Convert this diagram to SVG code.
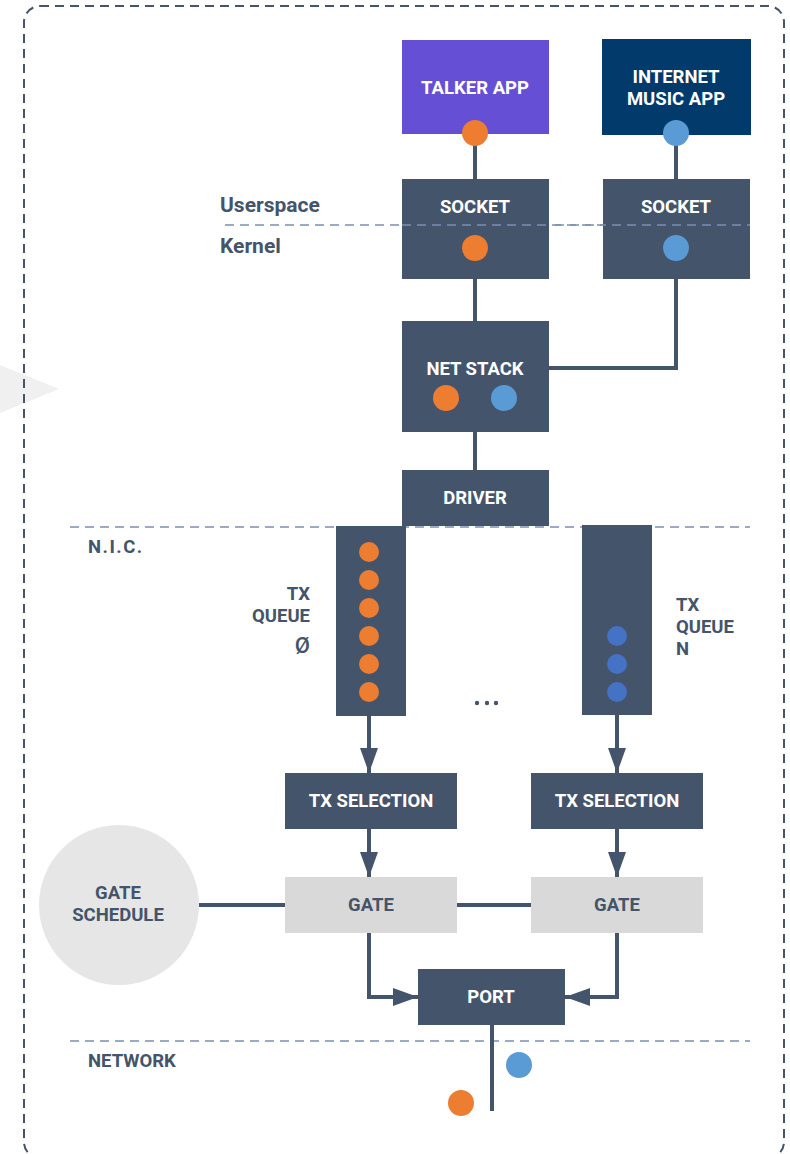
<svg xmlns="http://www.w3.org/2000/svg" width="790" height="1154" viewBox="0 0 790 1154">
<defs>
<style>
.box{fill:#44546a}
.gate{fill:#d9d9d9}
.lbl{font-family:Roboto,"Liberation Sans",sans-serif;font-weight:700;font-size:18.5px;fill:#ffffff;text-anchor:middle}
.dlbl{font-family:Roboto,"Liberation Sans",sans-serif;font-weight:700;font-size:18.5px;fill:#44546a}
.big{font-size:21px}
.sep{stroke:#7b8fb3;stroke-width:1.6;stroke-dasharray:9 6;fill:none}
.conn{stroke:#44546a;stroke-width:4;fill:none}
.or{fill:#ed7d31}
.bl{fill:#5b9bd5}
.db{fill:#4472c4}
</style>
<marker id="arrL" viewBox="0 0 25 18" refX="25" refY="9" markerWidth="25" markerHeight="18" markerUnits="userSpaceOnUse" orient="auto">
<path d="M0,0 L25,9 L0,18 Z" fill="#44546a"/>
</marker>
</defs>
<rect width="790" height="1154" fill="#ffffff"/>
<polygon points="0,365 59,389 0,413" fill="#f0f0f0"/>
<rect x="24" y="6" width="760" height="1152" rx="16" fill="none" stroke="#44546a" stroke-width="2" stroke-dasharray="9 6"/>

<g id="separators">
<line class="sep" x1="225" y1="225" x2="750" y2="225"/>
<line class="sep" x1="70" y1="527" x2="750" y2="527"/>
<line class="sep" x1="70" y1="1041" x2="750" y2="1041"/>
<text class="dlbl big" x="220" y="212">Userspace</text>
<text class="dlbl big" x="220" y="253">Kernel</text>
<text class="dlbl" x="88" y="553" letter-spacing="1.5">N.I.C.</text>
<text class="dlbl" x="88" y="1067">NETWORK</text>
</g>

<g id="connectors">
<line class="conn" x1="475" y1="133" x2="475" y2="179"/>
<line class="conn" x1="676" y1="133" x2="676" y2="179"/>
<line class="conn" x1="475" y1="278" x2="475" y2="321"/>
<polyline class="conn" points="676,278 676,368 549,368"/>
<line class="conn" x1="475" y1="432" x2="475" y2="470"/>
<line class="conn" x1="369" y1="716" x2="369" y2="773" marker-end="url(#arrL)"/>
<line class="conn" x1="617" y1="715" x2="617" y2="773" marker-end="url(#arrL)"/>
<line class="conn" x1="369" y1="829" x2="369" y2="877" marker-end="url(#arrL)"/>
<line class="conn" x1="617" y1="829" x2="617" y2="877" marker-end="url(#arrL)"/>
<line class="conn" x1="199" y1="905" x2="285" y2="905"/>
<line class="conn" x1="457" y1="905" x2="531" y2="905"/>
<polyline class="conn" points="369,933 369,997 418,997" marker-end="url(#arrL)"/>
<polyline class="conn" points="617,933 617,997 565,997" marker-end="url(#arrL)"/>
<line class="conn" x1="492" y1="1025" x2="492" y2="1111"/>
</g>

<g id="talker-app">
<rect x="402" y="40" width="147" height="94" fill="#654fd5"/>
<text class="lbl" x="475" y="94">TALKER APP</text>
<circle class="or" cx="475" cy="133" r="13"/>
</g>
<g id="music-app">
<rect x="602" y="39" width="149" height="96" fill="#013a6b"/>
<text class="lbl" x="676" y="83">INTERNET</text>
<text class="lbl" x="676" y="105">MUSIC APP</text>
<circle class="bl" cx="676" cy="133" r="13"/>
</g>
<g id="socket1">
<rect class="box" x="402" y="179" width="147" height="100"/>
<text class="lbl" x="475" y="213">SOCKET</text>
<circle class="or" cx="475" cy="248" r="13"/>
</g>
<g id="socket2">
<rect class="box" x="603" y="179" width="147" height="100"/>
<text class="lbl" x="676" y="213">SOCKET</text>
<circle class="bl" cx="676" cy="248" r="13"/>
</g>
<line class="sep" x1="402" y1="225" x2="750" y2="225"/>
<g id="net-stack">
<rect class="box" x="402" y="321" width="147" height="111"/>
<text class="lbl" x="475" y="375">NET STACK</text>
<circle class="or" cx="446" cy="398" r="13"/>
<circle class="bl" cx="504" cy="398" r="13"/>
</g>
<g id="driver">
<rect class="box" x="402" y="470" width="147" height="56"/>
<text class="lbl" x="475" y="504">DRIVER</text>
</g>
<g id="tx-queue-0">
<rect class="box" x="336" y="526" width="70" height="190"/>
<circle class="or" cx="369" cy="552" r="10"/>
<circle class="or" cx="369" cy="580" r="10"/>
<circle class="or" cx="369" cy="608" r="10"/>
<circle class="or" cx="369" cy="636" r="10"/>
<circle class="or" cx="369" cy="664" r="10"/>
<circle class="or" cx="369" cy="692" r="10"/>
<text class="dlbl" x="310" y="600" text-anchor="end">TX</text>
<text class="dlbl" x="310" y="622" text-anchor="end">QUEUE</text>
<text class="dlbl" x="310" y="653" text-anchor="end" style="font-weight:500;font-size:22px">Ø</text>
</g>
<g id="tx-queue-n">
<rect class="box" x="582" y="525" width="70" height="190"/>
<circle class="db" cx="617" cy="636" r="10"/>
<circle class="db" cx="617" cy="664" r="10"/>
<circle class="db" cx="617" cy="692" r="10"/>
<text class="dlbl" x="676" y="611">TX</text>
<text class="dlbl" x="676" y="633">QUEUE</text>
<text class="dlbl" x="676" y="655">N</text>
</g>
<g id="ellipsis" fill="#44546a">
<circle cx="477" cy="703" r="2.2"/>
<circle cx="487" cy="703" r="2.2"/>
<circle cx="496" cy="703" r="2.2"/>
</g>
<g id="tx-selection-1">
<rect class="box" x="285" y="773" width="172" height="56"/>
<text class="lbl" x="371" y="807">TX SELECTION</text>
</g>
<g id="tx-selection-2">
<rect class="box" x="531" y="773" width="172" height="56"/>
<text class="lbl" x="617" y="807">TX SELECTION</text>
</g>
<g id="gate-schedule">
<circle cx="119" cy="905" r="80" fill="#e6e6e6"/>
<text class="dlbl" x="118" y="899" text-anchor="middle">GATE</text>
<text class="dlbl" x="118" y="921" text-anchor="middle">SCHEDULE</text>
</g>
<g id="gate-1">
<rect class="gate" x="285" y="877" width="172" height="56"/>
<text class="dlbl" x="371" y="911" text-anchor="middle">GATE</text>
</g>
<g id="gate-2">
<rect class="gate" x="531" y="877" width="172" height="56"/>
<text class="dlbl" x="617" y="911" text-anchor="middle">GATE</text>
</g>
<g id="port">
<rect class="box" x="418" y="969" width="147" height="56"/>
<text class="lbl" x="491" y="1003">PORT</text>
</g>
<g id="packets">
<circle class="bl" cx="519" cy="1065" r="13"/>
<circle class="or" cx="461" cy="1103" r="13"/>
</g>
</svg>
